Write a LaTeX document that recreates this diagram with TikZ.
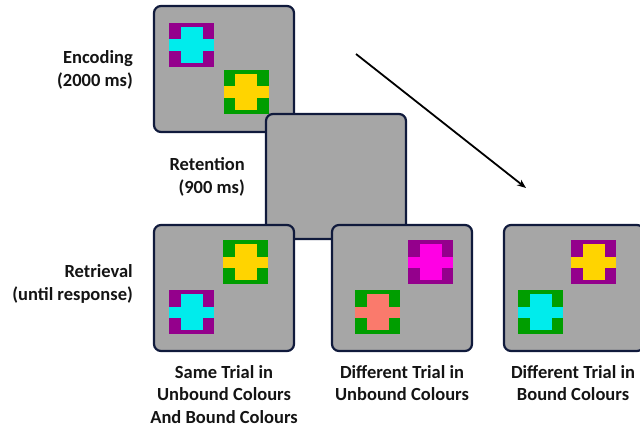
\documentclass[tikz,border=0pt]{standalone}
\usepackage{fontspec}
\setmainfont{Carlito}
\usetikzlibrary{arrows.meta}
\definecolor{panelgrey}{RGB}{166,166,166}
\definecolor{navy}{RGB}{16,26,60}
\definecolor{textc}{RGB}{20,20,20}
\definecolor{spurple}{RGB}{148,0,140}
\definecolor{scyan}{RGB}{0,236,236}
\definecolor{sgreen}{RGB}{0,158,0}
\definecolor{syellow}{RGB}{255,212,0}
\definecolor{smagenta}{RGB}{255,0,228}
\definecolor{ssalmon}{RGB}{250,122,108}
\tikzset{
  panel/.style={draw=navy, fill=panelgrey, line width=2.2pt, rounded corners=7pt,
    minimum width=140pt, minimum height=126pt, inner sep=0pt},
  lbl/.style={font=\bfseries\fontsize{18.5}{22.5}\selectfont, text=textc, inner sep=0pt},
  arr/.style={line width=1.8pt, -{Stealth[length=9pt,width=7pt]}},
  pics/stim/.style 2 args={code={
    \fill[#1] (0,0) rectangle (45,44);
    \fill[#2] (11.5,4) rectangle (33.5,40);
    \fill[#2] (0,16.5) rectangle (45,28);
  }}
}
\begin{document}
\begin{tikzpicture}[x=1pt,y=-1pt]
\useasboundingbox (0,0) rectangle (640,428);
\clip (0,0) rectangle (640,428);
% encoding
\node[panel] (enc) at (224,69) {};
\pic at (169,23) {stim={spurple}{scyan}};
\pic at (223.5,70) {stim={sgreen}{syellow}};
% retention
\node[panel, minimum height=125pt] (ret) at (336,176.5) {};
% retrieval panels
\node[panel] (r1) at (224,288) {};
\pic at (223,240) {stim={sgreen}{syellow}};
\pic at (169,290) {stim={spurple}{scyan}};
\node[panel] (r2) at (402,288) {};
\pic at (408,240) {stim={spurple}{smagenta}};
\pic at (355,290) {stim={sgreen}{ssalmon}};
\node[panel] (r3) at (574,288) {};
\pic at (571,240) {stim={spurple}{syellow}};
\pic at (518,290) {stim={sgreen}{scyan}};
% arrow
\coordinate (a1) at (356,54);
\coordinate (a2) at (526,188);
\draw[arr] (a1) -- (a2);
% left labels
\node[lbl, anchor=east, align=right] (lenc) at (133,70) {Encoding\\(2000 ms)};
\node[lbl, anchor=east, align=right] (lret) at (245,177) {Retention\\(900 ms)};
\node[lbl, anchor=east, align=right] (lrtr) at (133,284) {Retrieval\\(until response)};
% bottom labels
\node[lbl, anchor=north, align=center] (b1) at (224,365) {Same Trial in\\Unbound Colours\\And Bound Colours};
\node[lbl, anchor=north, align=center] (b2) at (402,365) {Different Trial in\\Unbound Colours};
\node[lbl, anchor=north, align=center] (b3) at (573,365) {Different Trial in\\Bound Colours};
\end{tikzpicture}
\end{document}
